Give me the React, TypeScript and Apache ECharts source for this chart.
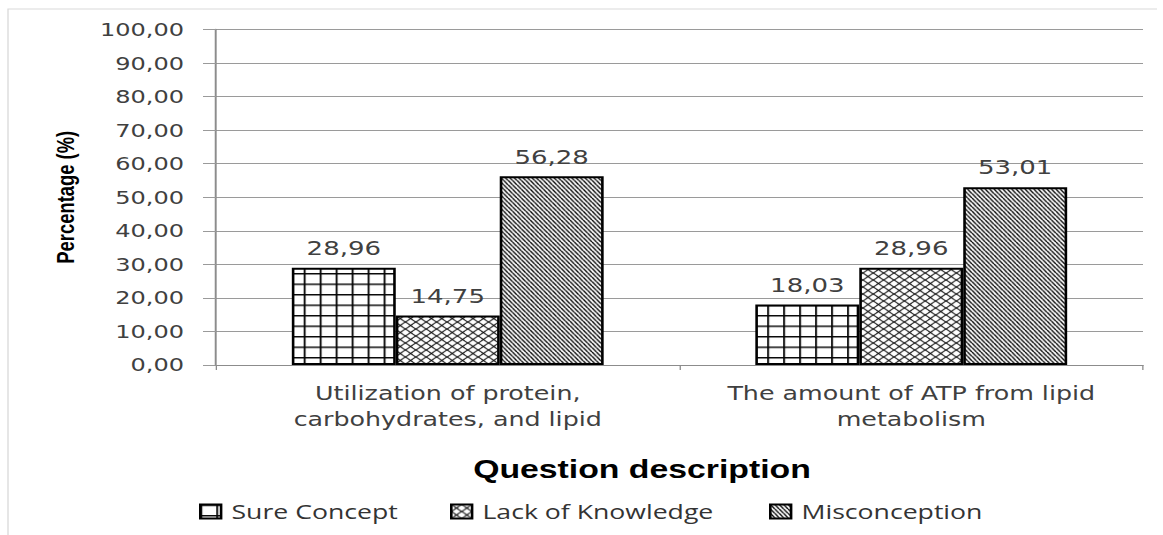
import React, { useEffect, useRef } from "react";
import * as echarts from "echarts";

const categories = [
  "Utilization of protein,\ncarbohydrates, and lipid",
  "The amount of ATP from lipid\nmetabolism",
];
const seriesNames = ["Sure Concept", "Lack of Knowledge", "Misconception"];
const sureConcept = [28.96, 18.03];
const lackOfKnowledge = [14.75, 28.96];
const misconception = [56.28, 53.01];
const xTitle = "Question description";
const yTitle = "Percentage (%)";

const PAGE_W = 1163;
const INNER_W = 895;
const H = 535;
const SX = PAGE_W / INNER_W;
const px = (v: number) => v / SX;

type Kind = "grid" | "cross" | "diag";

function makePattern(kind: Kind, w: number, h: number) {
  const r = 6;
  const c = document.createElement("canvas");
  c.width = Math.round(w * r);
  c.height = Math.round(h * r);
  const g = c.getContext("2d")!;
  const W = c.width;
  const Hh = c.height;
  g.fillStyle = "#ffffff";
  g.fillRect(0, 0, W, Hh);
  g.fillStyle = "#000000";
  g.strokeStyle = "#000000";
  if (kind === "grid") {
    g.fillRect(0, 0, 1.5 * r, Hh);
    g.fillRect(0, 0, W, 1.6 * r);
  } else if (kind === "cross") {
    g.lineWidth = 0.9 * r;
    for (const dx of [-W, 0, W]) {
      g.beginPath();
      g.moveTo(dx, 0);
      g.lineTo(dx + W, Hh);
      g.stroke();
      g.beginPath();
      g.moveTo(dx + W, 0);
      g.lineTo(dx, Hh);
      g.stroke();
    }
  } else {
    g.lineWidth = 1.1 * r;
    for (const dx of [-W, 0, W]) {
      g.beginPath();
      g.moveTo(dx, 0);
      g.lineTo(dx + W, Hh);
      g.stroke();
    }
  }
  return { image: c, repeat: "repeat", imageWidth: w, imageHeight: h } as any;
}

const fmt = (v: number) => v.toFixed(2).replace(".", ",");

export default function App() {
  const ref = useRef<HTMLDivElement>(null);
  useEffect(() => {
    if (!ref.current) return;
    const chart = echarts.init(ref.current, null, { renderer: "svg" });
    const patterns = [
      makePattern("grid", 12.3, 10.5),
      makePattern("cross", 8, 7),
      makePattern("diag", 3.4, 4.4),
    ];
    const values = [sureConcept, lackOfKnowledge, misconception];
    const legendLefts = [px(199), px(450), px(769)];
    const labelColor = "#404040";

    chart.setOption({
      animation: false,
      backgroundColor: "#ffffff",
      grid: {
        left: px(216),
        right: INNER_W - px(1143),
        top: 29.5,
        bottom: H - 365,
        containLabel: false,
      },
      xAxis: {
        type: "category",
        data: categories,
        axisLine: { show: true, lineStyle: { color: "#8c8c8c", width: 1.2 } },
        axisTick: { show: true, length: 5, lineStyle: { color: "#8c8c8c" } },
        axisLabel: {
          margin: 15,
          fontFamily: "DejaVu Sans",
          fontSize: 19.5,
          lineHeight: 26,
          color: labelColor,
          interval: 0,
        },
        splitLine: { show: false },
      },
      yAxis: {
        type: "value",
        min: 0,
        max: 100,
        interval: 10,
        name: yTitle,
        nameLocation: "middle",
        nameRotate: 90,
        nameGap: 106,
        nameTextStyle: {
          fontFamily: "Liberation Sans, Arial",
          fontWeight: "bold",
          fontSize: 18.4,
          color: "#000000",
        },
        axisLine: { show: true, lineStyle: { color: "#8c8c8c", width: 1.5 } },
        axisTick: { show: true, length: 10, lineStyle: { color: "#9a9a9a" } },
        axisLabel: {
          margin: 24.6,
          fontFamily: "DejaVu Sans",
          fontSize: 18.5,
          color: labelColor,
          formatter: (v: number) => fmt(v),
        },
        splitLine: { show: true, lineStyle: { color: "#9a9a9a", width: 1 } },
      },
      legend: seriesNames.map((n, i) => ({
        data: [n],
        left: legendLefts[i],
        top: 501,
        padding: 0,
        icon: "rect",
        itemWidth: 16,
        itemHeight: 14,
        itemGap: 0,
        selectedMode: false,
        textStyle: {
          fontFamily: "Open Sans",
          fontSize: 20.5,
          color: "#333333",
          padding: [0, 0, 0, 3],
        },
        itemStyle: { borderColor: "#000", borderWidth: 2 },
      })),
      series: seriesNames.map((n, i) => ({
        name: n,
        type: "bar",
        data: values[i],
        barWidth: 80,
        barGap: "0%",
        itemStyle: {
          color: patterns[i],
          borderColor: "#000000",
          borderWidth: 2,
        },
        label: {
          show: true,
          position: "top",
          distance: 10,
          fontFamily: "DejaVu Sans",
          fontSize: 20,
          color: labelColor,
          formatter: (p: any) => fmt(p.value),
        },
      })),
      graphic: [
        {
          type: "polyline",
          silent: true,
          shape: {
            points: [
              [px(8), 540],
              [px(8), 9],
              [px(1157), 9],
            ],
          },
          style: { fill: "none", stroke: "#d9d9d9", lineWidth: 1 },
        },
        {
          type: "text",
          x: px(642),
          y: 469,
          style: {
            text: xTitle,
            fontFamily: "Liberation Sans, Arial",
            fontWeight: "bold",
            fontSize: 26,
            fill: "#000000",
            textAlign: "center",
            textVerticalAlign: "middle",
          },
        },
      ],
    });
    return () => chart.dispose();
  }, []);

  return (
    <div
      style={{
        position: "fixed",
        left: 0,
        top: 0,
        width: PAGE_W,
        height: H,
        overflow: "hidden",
        background: "#ffffff",
      }}
    >
      <div
        ref={ref}
        style={{
          width: INNER_W,
          height: H,
          transform: `scaleX(${SX})`,
          transformOrigin: "0 0",
        }}
      />
    </div>
  );
}
